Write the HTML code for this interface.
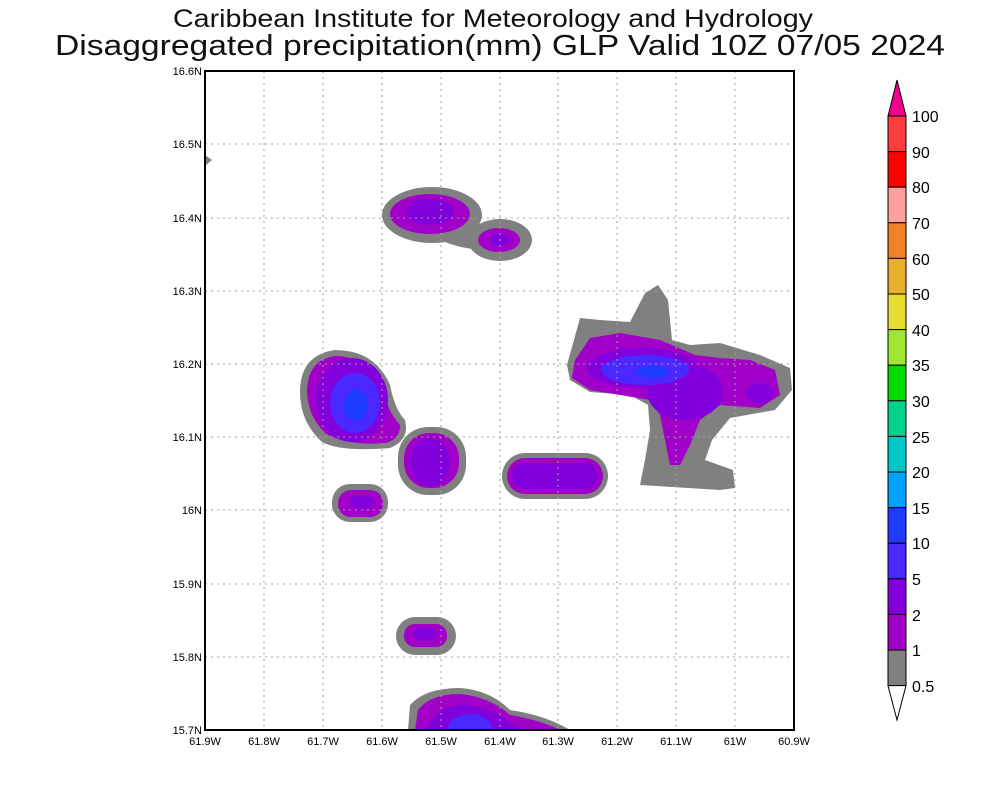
<!DOCTYPE html>
<html><head><style>
body{margin:0;background:#fff;}
svg{display:block;font-family:"Liberation Sans",sans-serif;}
</style></head><body>
<svg width="1000" height="800" viewBox="0 0 1000 800">
<rect width="1000" height="800" fill="#fff"/>
<text x="493" y="27" font-size="25" text-anchor="middle" fill="#111" textLength="640" lengthAdjust="spacingAndGlyphs">Caribbean Institute for Meteorology and Hydrology</text>
<text x="500" y="55" font-size="29" text-anchor="middle" fill="#111" textLength="890" lengthAdjust="spacingAndGlyphs">Disaggregated precipitation(mm) GLP Valid 10Z 07/05 2024</text>
<defs><clipPath id="c"><rect x="205" y="71" width="589" height="659"/></clipPath></defs>
<g clip-path="url(#c)" stroke-linejoin="round">
<g fill="#808080">
<path d="M205,155 L212,160 L205,166 Z"/>
<ellipse cx="432" cy="215" rx="50" ry="28"/>
<ellipse cx="500" cy="240" rx="32" ry="21"/>
<path d="M450,225 Q470,222 485,225 L490,250 Q465,250 445,242 Z"/>
<path d="M300,392 Q300,355 335,350 Q375,350 390,385 Q395,410 405,420 Q410,440 390,448 Q340,452 322,442 Q300,422 300,392Z"/>
<rect x="398" y="427" width="68" height="68" rx="30"/>
<rect x="332" y="484" width="56" height="38" rx="18"/>
<rect x="502" y="453" width="106" height="46" rx="23"/>
<path d="M567,365 L580,318 L600,320 L630,322 L645,293 L658,285 L668,300 L672,340 L690,345 L720,343 L760,355 L790,368 L792,390 L775,410 L730,418 L712,440 L705,460 L733,470 L735,488 L720,490 L640,485 L645,460 L650,430 L648,405 L630,395 L590,392 L570,380 Z"/>
<rect x="396" y="617" width="60" height="38" rx="19"/>
<path d="M408,730 L410,705 Q425,688 460,688 Q490,690 510,710 Q545,715 570,730 Z"/>
</g>
<g fill="#a000c8">
<ellipse cx="430" cy="214" rx="40" ry="20"/>
<ellipse cx="499" cy="240" rx="21" ry="12"/>
<path d="M307,390 Q308,360 335,356 Q368,356 382,388 Q388,412 400,425 Q400,440 385,443 Q345,446 325,433 Q307,415 307,390Z"/>
<rect x="404" y="433" width="55" height="55" rx="25"/>
<rect x="338" y="490" width="45" height="27" rx="13"/>
<rect x="507" y="458" width="96" height="36" rx="18"/>
<path d="M575,360 L590,338 L620,333 L660,340 L695,355 L720,358 L750,360 L775,370 L780,395 L760,408 L720,405 L700,420 L690,445 L680,465 L670,465 L665,440 L660,415 L650,400 L620,395 L590,390 L572,378 Z"/>
<rect x="404" y="624" width="43" height="23" rx="11"/>
<path d="M415,730 L418,710 Q430,694 460,694 Q490,697 510,715 Q540,720 560,730 Z"/>
</g>
<g fill="#8200dc">
<ellipse cx="430" cy="212" rx="24" ry="13"/>
<ellipse cx="500" cy="240" rx="10" ry="6"/>
<ellipse cx="352" cy="400" rx="36" ry="42"/>
<ellipse cx="430" cy="462" rx="20" ry="24"/>
<ellipse cx="362" cy="502" rx="12" ry="7"/>
<rect x="512" y="463" width="86" height="26" rx="13"/>
<ellipse cx="642" cy="368" rx="55" ry="20"/>
<ellipse cx="685" cy="392" rx="38" ry="28"/>
<ellipse cx="760" cy="393" rx="14" ry="10"/>
<ellipse cx="425" cy="634" rx="12" ry="6"/>
<path d="M425,730 Q440,702 470,705 Q500,712 520,730 Z"/>
</g>
<g fill="#4b28ff">
<ellipse cx="355" cy="403" rx="25" ry="30"/>
<ellipse cx="645" cy="370" rx="44" ry="15"/>
<ellipse cx="470" cy="728" rx="22" ry="14"/>
</g>
<g fill="#1e3cff">
<ellipse cx="356" cy="405" rx="12" ry="16"/>
<ellipse cx="652" cy="372" rx="16" ry="6"/>
</g>
</g>
<g stroke="#a0a0a0" stroke-width="1" stroke-dasharray="2,4">
<line x1="264" y1="71" x2="264" y2="730"/><line x1="323" y1="71" x2="323" y2="730"/>
<line x1="382" y1="71" x2="382" y2="730"/><line x1="441" y1="71" x2="441" y2="730"/>
<line x1="500" y1="71" x2="500" y2="730"/><line x1="558" y1="71" x2="558" y2="730"/>
<line x1="617" y1="71" x2="617" y2="730"/><line x1="676" y1="71" x2="676" y2="730"/>
<line x1="735" y1="71" x2="735" y2="730"/>
<line x1="205" y1="144" x2="794" y2="144"/><line x1="205" y1="218" x2="794" y2="218"/>
<line x1="205" y1="291" x2="794" y2="291"/><line x1="205" y1="364" x2="794" y2="364"/>
<line x1="205" y1="437" x2="794" y2="437"/><line x1="205" y1="510" x2="794" y2="510"/>
<line x1="205" y1="584" x2="794" y2="584"/><line x1="205" y1="657" x2="794" y2="657"/>
</g>
<rect x="205" y="71" width="589" height="659" fill="none" stroke="#000" stroke-width="2"/>
<g font-size="11" fill="#000" text-anchor="end">
<text x="202" y="75">16.6N</text><text x="202" y="148">16.5N</text><text x="202" y="222">16.4N</text>
<text x="202" y="295">16.3N</text><text x="202" y="368">16.2N</text><text x="202" y="441">16.1N</text>
<text x="202" y="514">16N</text><text x="202" y="588">15.9N</text><text x="202" y="661">15.8N</text>
<text x="202" y="734">15.7N</text>
</g>
<g font-size="11" fill="#000" text-anchor="middle">
<text x="205" y="745">61.9W</text><text x="264" y="745">61.8W</text><text x="323" y="745">61.7W</text>
<text x="382" y="745">61.6W</text><text x="441" y="745">61.5W</text><text x="500" y="745">61.4W</text>
<text x="558" y="745">61.3W</text><text x="617" y="745">61.2W</text><text x="676" y="745">61.1W</text>
<text x="735" y="745">61W</text><text x="794" y="745">60.9W</text>
</g>
<g stroke="#000" stroke-width="1">
<path d="M897,80 L906,116 L888,116 Z" fill="#f0008c"/>
<rect x="888" y="116" width="18" height="35.6" fill="#ff3c3c"/>
<rect x="888" y="151.6" width="18" height="35.6" fill="#ff0000"/>
<rect x="888" y="187.2" width="18" height="35.6" fill="#ffa0a0"/>
<rect x="888" y="222.8" width="18" height="35.6" fill="#f08228"/>
<rect x="888" y="258.4" width="18" height="35.6" fill="#e6af2d"/>
<rect x="888" y="294" width="18" height="35.6" fill="#e6dc32"/>
<rect x="888" y="329.6" width="18" height="35.6" fill="#a0e632"/>
<rect x="888" y="365.2" width="18" height="35.6" fill="#00dc00"/>
<rect x="888" y="400.8" width="18" height="35.6" fill="#00d28c"/>
<rect x="888" y="436.4" width="18" height="35.6" fill="#00c8c8"/>
<rect x="888" y="472" width="18" height="35.6" fill="#00a0ff"/>
<rect x="888" y="507.6" width="18" height="35.6" fill="#1e3cff"/>
<rect x="888" y="543.2" width="18" height="35.6" fill="#4b28ff"/>
<rect x="888" y="578.8" width="18" height="35.6" fill="#8200dc"/>
<rect x="888" y="614.4" width="18" height="35.6" fill="#a000c8"/>
<rect x="888" y="650" width="18" height="35.6" fill="#808080"/>
<path d="M888,685.6 L906,685.6 L897,720 Z" fill="#fff"/>
</g>
<g font-size="16" fill="#000">
<text x="912" y="122">100</text><text x="912" y="158">90</text><text x="912" y="193">80</text>
<text x="912" y="229">70</text><text x="912" y="265">60</text><text x="912" y="300">50</text>
<text x="912" y="336">40</text><text x="912" y="371">35</text><text x="912" y="407">30</text>
<text x="912" y="443">25</text><text x="912" y="478">20</text><text x="912" y="514">15</text>
<text x="912" y="549">10</text><text x="912" y="585">5</text><text x="912" y="621">2</text>
<text x="912" y="656">1</text><text x="912" y="692">0.5</text>
</g>
</svg>
</body></html>
